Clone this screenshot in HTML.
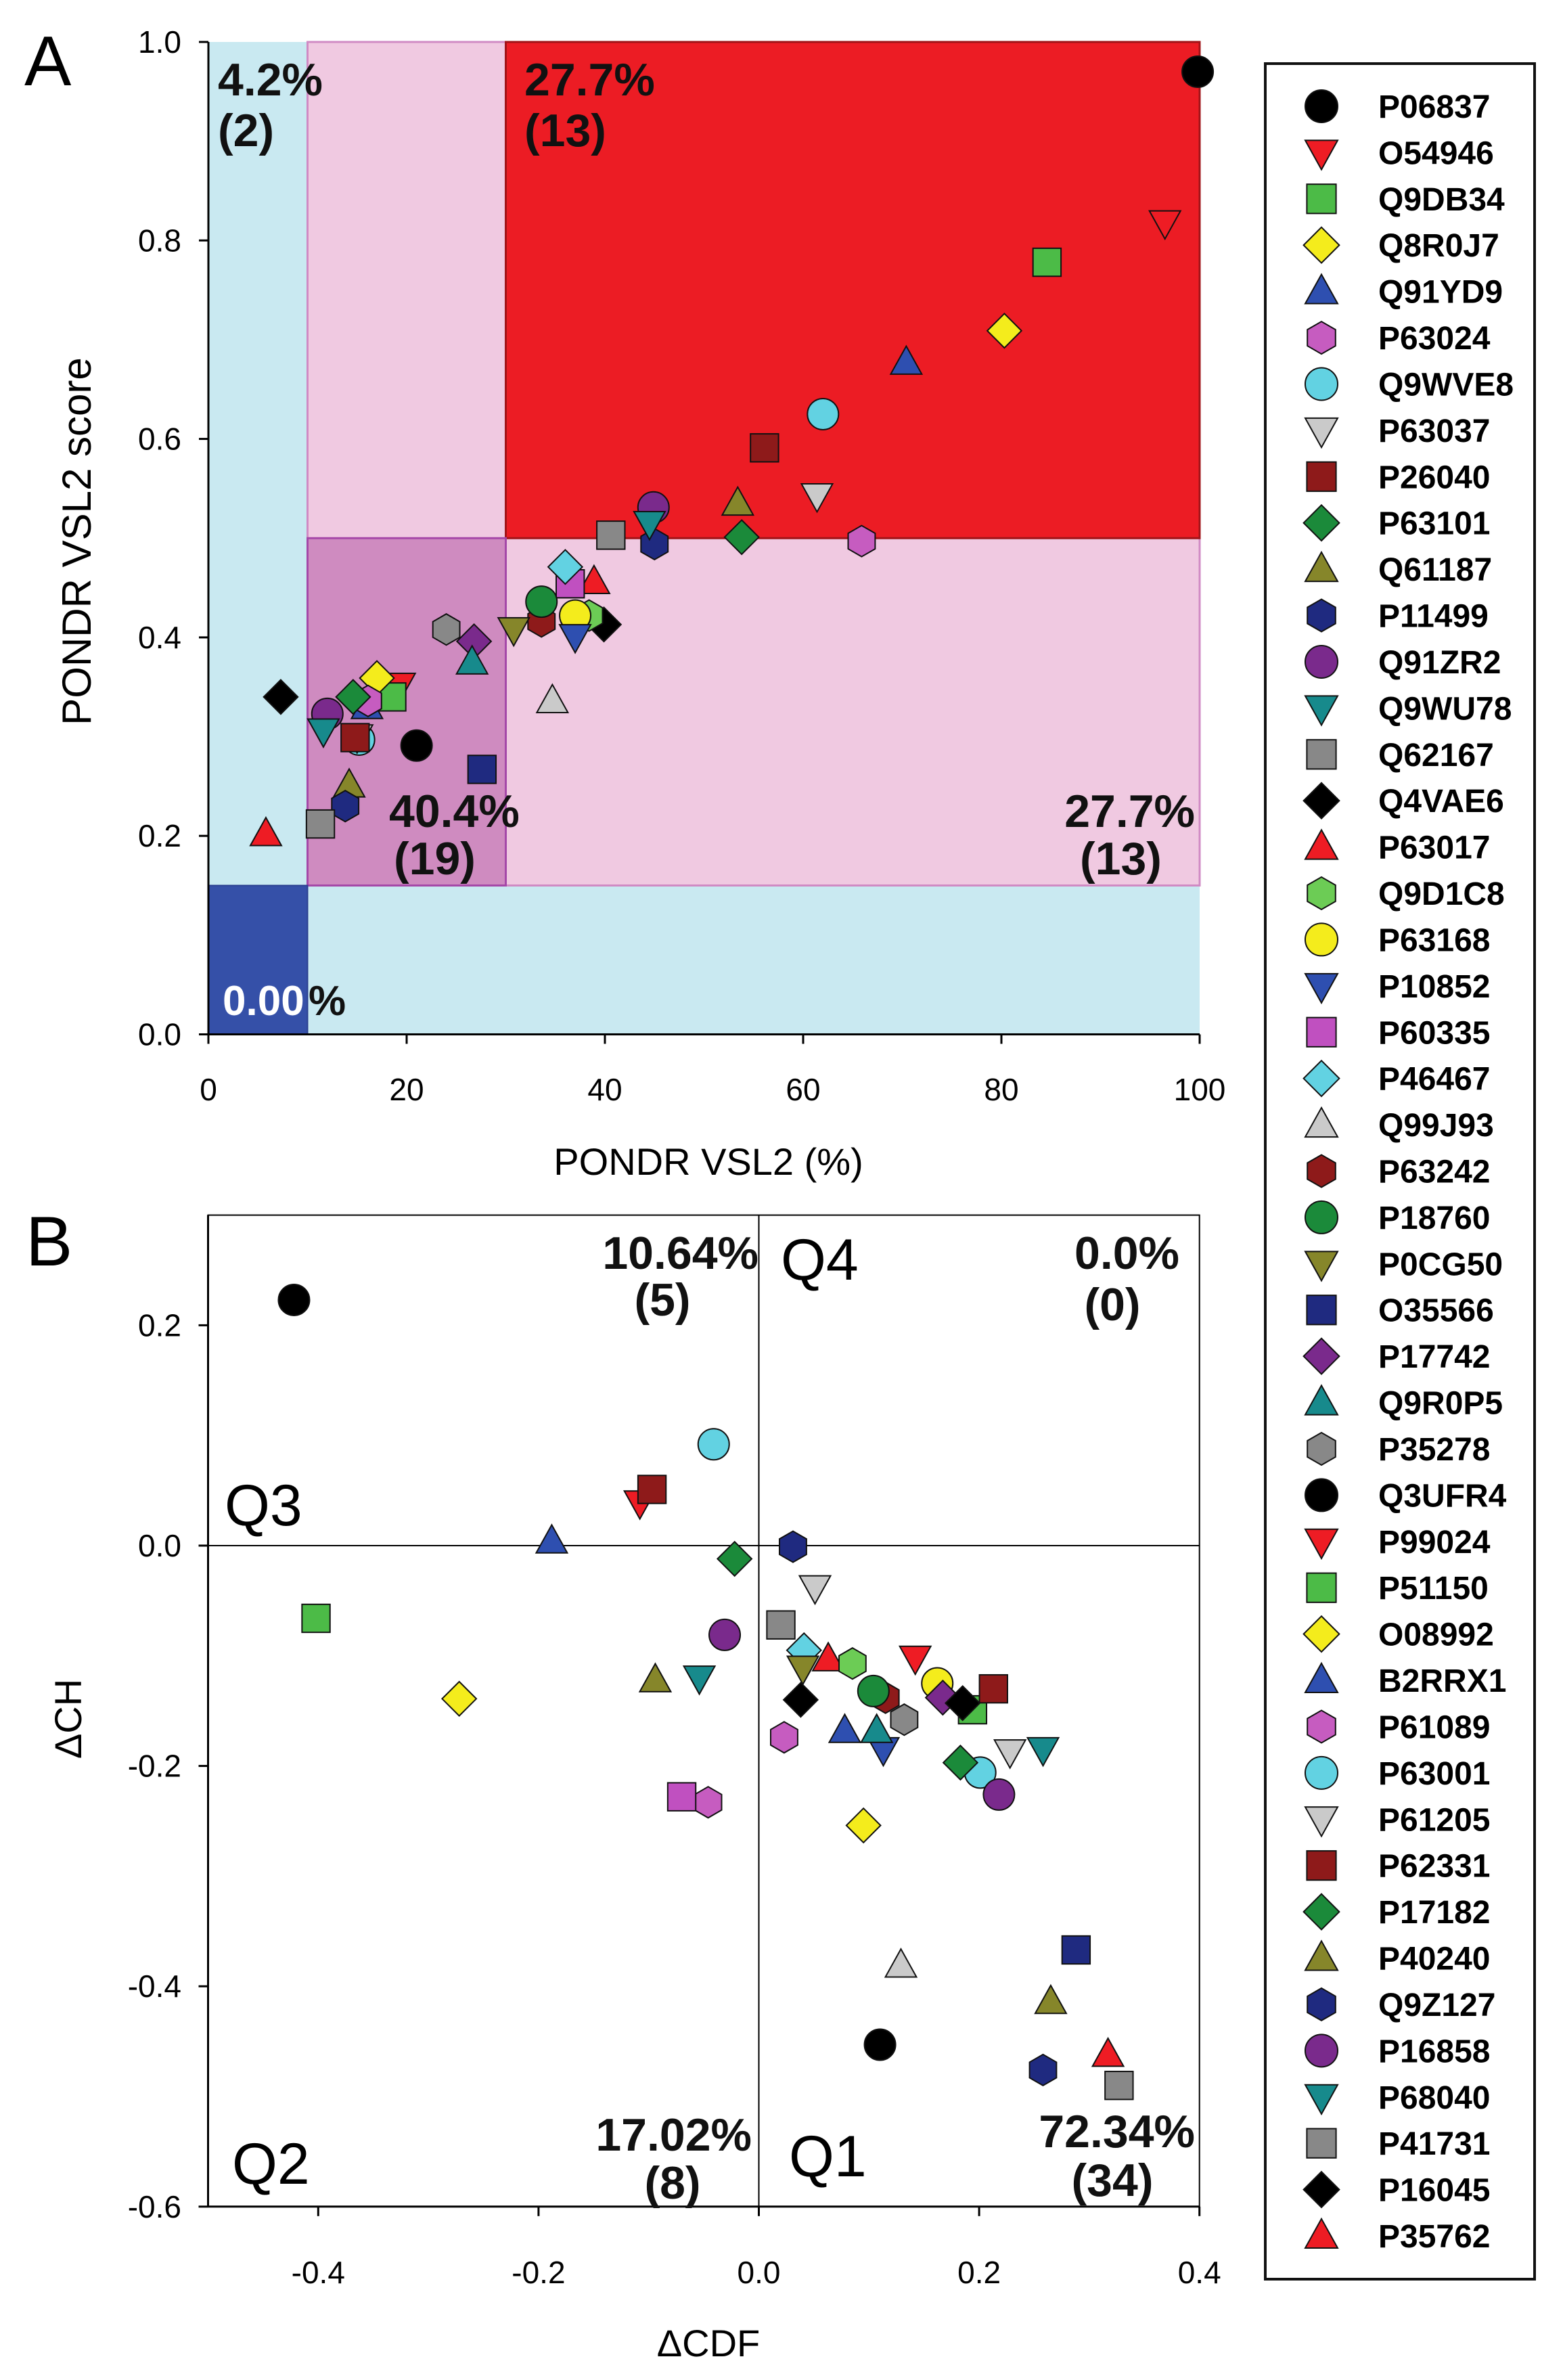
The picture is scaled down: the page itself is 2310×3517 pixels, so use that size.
<!DOCTYPE html>
<html><head><meta charset="utf-8"><style>
html,body{margin:0;padding:0;background:#fff;}
svg{display:block;}
text{font-family:"Liberation Sans",Arial,sans-serif;}
</style></head><body>
<svg id="fig" xmlns="http://www.w3.org/2000/svg" width="2310" height="3517" viewBox="0 0 2310 3517">
<rect x="0" y="0" width="2310" height="3517" fill="#fff"/>
<g id="panelA"></g>
<g id="panelB"></g>
<g id="legend"></g>
</svg>
<script>
const names=["P06837","O54946","Q9DB34","Q8R0J7","Q91YD9","P63024","Q9WVE8","P63037","P26040","P63101","Q61187","P11499","Q91ZR2","Q9WU78","Q62167","Q4VAE6","P63017","Q9D1C8","P63168","P10852","P60335","P46467","Q99J93","P63242","P18760","P0CG50","O35566","P17742","Q9R0P5","P35278","Q3UFR4","P99024","P51150","O08992","B2RRX1","P61089","P63001","P61205","P62331","P17182","P40240","Q9Z127","P16858","P68040","P41731","P16045","P35762"];
const disorderPct=[99.8,96.5,84.6,80.3,70.4,65.9,62.0,61.4,56.1,53.8,53.4,45.0,44.9,44.5,40.6,39.9,38.9,38.4,37.0,37.0,36.5,36.0,34.7,33.6,33.6,30.8,27.6,26.8,26.6,24.0,21.0,19.3,18.5,17.0,16.0,16.1,15.2,15.0,14.8,14.6,14.2,13.8,12.0,11.6,11.3,7.3,5.8];
const vsl2Score=[0.970,0.818,0.778,0.709,0.677,0.497,0.625,0.543,0.591,0.501,0.535,0.494,0.531,0.515,0.503,0.413,0.456,0.422,0.422,0.401,0.454,0.471,0.336,0.416,0.436,0.408,0.267,0.396,0.375,0.408,0.291,0.352,0.340,0.359,0.330,0.336,0.297,0.300,0.299,0.340,0.251,0.230,0.323,0.306,0.212,0.340,0.202];
const dCDF=[-0.422,-0.108,-0.402,-0.272,-0.188,-0.046,-0.041,0.051,-0.097,-0.022,-0.094,0.031,-0.031,-0.054,0.020,0.038,0.063,0.085,0.162,0.113,-0.070,0.041,0.129,0.115,0.104,0.040,0.288,0.167,0.107,0.132,0.110,0.142,0.194,0.095,0.078,0.023,0.201,0.228,0.213,0.183,0.265,0.258,0.218,0.258,0.327,0.185,0.317];
const dCH=[0.223,0.039,-0.066,-0.139,0.004,-0.233,0.092,-0.038,0.051,-0.012,-0.122,-0.001,-0.081,-0.120,-0.072,-0.140,-0.103,-0.107,-0.125,-0.185,-0.228,-0.095,-0.381,-0.138,-0.132,-0.111,-0.367,-0.138,-0.168,-0.158,-0.453,-0.102,-0.149,-0.254,-0.168,-0.174,-0.206,-0.187,-0.130,-0.197,-0.414,-0.476,-0.226,-0.185,-0.490,-0.143,-0.462];
const xTicksA=[0,20,40,60,80,100];
const yTicksA=[0.0,0.2,0.4,0.6,0.8,1.0];
const xTicksB=[-0.4,-0.2,0.0,0.2,0.4];
const yTicksB=[0.2,0.0,-0.2,-0.4,-0.6];

const markerColors=["#000","#ee1c24","#4cbb47","#f4ec1c","#2e4fb0","#c65cc0","#62d2e2","#cacaca","#8e1a1a","#1b8a3a","#86862a","#1f2a80","#7a2a8c","#178a8c","#888","#000","#ee1c24","#6ccc55","#f4ec1c","#2e4fb0","#c050c0","#62d2e2","#cacaca","#8e1a1a","#1b8a3a","#86862a","#1f2a80","#7a2a8c","#178a8c","#888","#000","#ee1c24","#4cbb47","#f4ec1c","#2e4fb0","#c65cc0","#62d2e2","#cacaca","#8e1a1a","#1b8a3a","#86862a","#1f2a80","#7a2a8c","#178a8c","#888","#000","#ee1c24"];
const markerShapes=["circle","tdown","square","diamond","tup","hex","circle","tdown","square","diamond","tup","hex","circle","tdown","square","diamond","tup","hex","circle","tdown","square","diamond","tup","hex","circle","tdown","square","diamond","tup","hex","circle","tdown","square","diamond","tup","hex","circle","tdown","square","diamond","tup","hex","circle","tdown","square","diamond","tup"];

const NS="http://www.w3.org/2000/svg";
function mk(tag,attrs,parent){const e=document.createElementNS(NS,tag);for(const k in attrs)e.setAttribute(k,attrs[k]);parent.appendChild(e);return e;}
function txt(s,attrs,parent){const e=mk("text",attrs,parent);e.textContent=s;return e;}

// axis functions
const xA=v=>308+v*(1773-308)/100;
const yA=v=>1528.5-v*(1528.5-62);
const xB=v=>307.5+(v+0.5)*1628;
const yB=v=>2284-v*1628;

function marker(shape,cx,cy,col,r,parent){
  const st={fill:col,stroke:"#111","stroke-width":2};
  let e;
  if(shape==="circle") e=mk("circle",Object.assign({cx:cx,cy:cy,r:r},st),parent);
  else if(shape==="square") e=mk("rect",Object.assign({x:cx-r*0.9,y:cy-r*0.9,width:r*1.8,height:r*1.8},st),parent);
  else if(shape==="diamond") e=mk("polygon",Object.assign({points:`${cx},${cy-r*1.1} ${cx+r*1.1},${cy} ${cx},${cy+r*1.1} ${cx-r*1.1},${cy}`},st),parent);
  else if(shape==="tup") e=mk("polygon",Object.assign({points:`${cx},${cy-r*1.05} ${cx+r},${cy+r*0.75} ${cx-r},${cy+r*0.75}`},st),parent);
  else if(shape==="tdown") e=mk("polygon",Object.assign({points:`${cx},${cy+r*1.05} ${cx+r},${cy-r*0.75} ${cx-r},${cy-r*0.75}`},st),parent);
  else { let p=[];for(let i=0;i<6;i++){const a=Math.PI/3*i+Math.PI/6;p.push((cx+r*Math.cos(a)).toFixed(1)+","+(cy+r*Math.sin(a)).toFixed(1));} e=mk("polygon",Object.assign({points:p.join(" ")},st),parent);}
  return e;
}

// ---------- Panel A ----------
const A=document.getElementById("panelA");
let r;
r=mk("rect",{x:xA(0),y:yA(1),width:xA(100)-xA(0),height:yA(0)-yA(1),fill:"#c9e9f1"},A);


r=mk("rect",{x:xA(10),y:yA(1),width:xA(100)-xA(10),height:yA(0.15)-yA(1),fill:"#f0c9e1",stroke:"#d08ac4","stroke-width":3},A);


r=mk("rect",{x:xA(30),y:yA(1),width:xA(100)-xA(30),height:yA(0.5)-yA(1),fill:"#ec1c24",stroke:"#a01418","stroke-width":3},A);


r=mk("rect",{x:xA(10),y:yA(0.5),width:xA(30)-xA(10),height:yA(0.15)-yA(0.5),fill:"#cf8bc0",stroke:"#a548a8","stroke-width":3},A);


r=mk("rect",{x:xA(0),y:yA(0.15),width:xA(10)-xA(0),height:yA(0)-yA(0.15),fill:"#3550a8",stroke:"#2a3f90","stroke-width":2},A);


// axes
mk("line",{x1:xA(0),y1:yA(0),x2:xA(100),y2:yA(0),stroke:"#000","stroke-width":3},A);
mk("line",{x1:xA(0),y1:yA(0),x2:xA(0),y2:yA(1),stroke:"#000","stroke-width":3},A);
xTicksA.forEach(v=>{
  mk("line",{x1:xA(v),y1:yA(0),x2:xA(v),y2:yA(0)+14,stroke:"#000","stroke-width":3},A);
  const t=txt(String(v),{x:xA(v),y:1626,"font-size":46,"text-anchor":"middle"},A);
  
  
});
yTicksA.forEach(v=>{
  mk("line",{x1:xA(0)-14,y1:yA(v),x2:xA(0),y2:yA(v),stroke:"#000","stroke-width":3},A);
  const t=txt(v.toFixed(1),{x:268,y:yA(v)+16,"font-size":46,"text-anchor":"end"},A);
  
  
});
let t;
t=txt("A",{x:36,y:126,"font-size":104},A);


t=txt("PONDR VSL2 (%)",{x:1047,y:1736,"font-size":56,"text-anchor":"middle"},A);


t=txt("PONDR VSL2 score",{x:0,y:0,"font-size":60,"text-anchor":"middle",transform:"translate(134,800) rotate(-90)"},A);


const bl={"font-size":68,"font-weight":"bold",fill:"#111"};
[["4.2%",322,141,"start"],["(2)",322,216,"start"],["27.7%",775,141,"start"],["(13)",775,216,"start"],["40.4%",575,1222,"start"],["(19)",582,1292,"start"],["27.7%",1766,1222,"end"],["(13)",1596,1292,"start"]].forEach(a=>{
  const e=txt(a[0],Object.assign({x:a[1],y:a[2],"text-anchor":a[3]},bl),A);
  
  
});
t=txt("0.00",{x:329,y:1500,"font-size":62,"font-weight":"bold",fill:"#fff"},A);


t=txt("%",{x:456,y:1500,"font-size":62,"font-weight":"bold",fill:"#111"},A);


names.forEach((n,i)=>{
  const m=marker(markerShapes[i],xA(disorderPct[i]),yA(vsl2Score[i]),markerColors[i],23,A);
  
  
});

// ---------- Panel B ----------
const B=document.getElementById("panelB");
r=mk("rect",{x:xB(-0.5),y:yB(0.3),width:xB(0.4)-xB(-0.5),height:yB(-0.6)-yB(0.3),fill:"none",stroke:"#000","stroke-width":2},B);


mk("line",{x1:xB(-0.5),y1:yB(0),x2:xB(0.4),y2:yB(0),stroke:"#000","stroke-width":2},B);
mk("line",{x1:xB(0),y1:yB(0.3),x2:xB(0),y2:yB(-0.6),stroke:"#000","stroke-width":2},B);
mk("line",{x1:xB(-0.5),y1:yB(-0.6),x2:xB(0.4),y2:yB(-0.6),stroke:"#000","stroke-width":3},B);
mk("line",{x1:xB(-0.5),y1:yB(0.3),x2:xB(-0.5),y2:yB(-0.6),stroke:"#000","stroke-width":3},B);
xTicksB.forEach(v=>{
  mk("line",{x1:xB(v),y1:yB(-0.6),x2:xB(v),y2:yB(-0.6)+14,stroke:"#000","stroke-width":3},B);
  const e=txt(v.toFixed(1),{x:xB(v),y:3374,"font-size":46,"text-anchor":"middle"},B);
  
  
});
yTicksB.forEach(v=>{
  mk("line",{x1:xB(-0.5)-14,y1:yB(v),x2:xB(-0.5),y2:yB(v),stroke:"#000","stroke-width":3},B);
  const e=txt(v.toFixed(1),{x:268,y:yB(v)+16,"font-size":46,"text-anchor":"end"},B);
  
  
});
t=txt("B",{x:38,y:1870,"font-size":104},B);


t=txt("\u0394CDF",{x:1047,y:3482,"font-size":56,"text-anchor":"middle"},B);


t=txt("\u0394CH",{x:0,y:0,"font-size":56,"text-anchor":"middle",transform:"translate(120,2540) rotate(-90)"},B);


[["Q3",332,2254],["Q4",1154,1891],["Q2",343,3227],["Q1",1166,3216]].forEach(a=>{
  const e=txt(a[0],{x:a[1],y:a[2],"font-size":86},B);
  
  
});
[["10.64%",1121,1875,"end"],["(5)",979,1944,"middle"],["0.0%",1743,1875,"end"],["(0)",1644,1951,"middle"],["17.02%",1111,3178,"end"],["(8)",994,3249,"middle"],["72.34%",1766,3173,"end"],["(34)",1644,3245,"middle"]].forEach(a=>{
  const e=txt(a[0],Object.assign({x:a[1],y:a[2],"text-anchor":a[3]},bl),B);
  
  
});
names.forEach((n,i)=>{
  const m=marker(markerShapes[i],xB(dCDF[i]),yB(dCH[i]),markerColors[i],23,B);
  
  
});

// ---------- Legend ----------
const L=document.getElementById("legend");
r=mk("rect",{x:1870,y:94,width:398,height:3274,fill:"#fff",stroke:"#111","stroke-width":4},L);


const step=(3304-157)/(names.length-1);
names.forEach((n,i)=>{
  const g=mk("g",{},L);
  
  
  const cy=157+i*step;
  marker(markerShapes[i],1953,cy,markerColors[i],24,g);
  txt(n,{x:2037,y:cy+17,"font-size":48,"font-weight":"bold"},g);
});
</script>
</body></html>
